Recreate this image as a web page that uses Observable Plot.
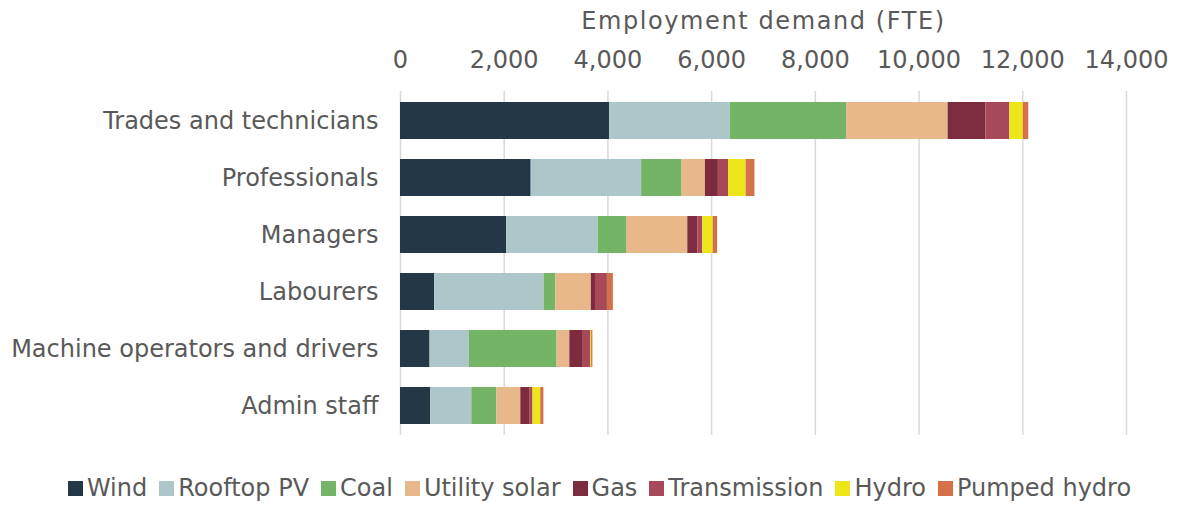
<!DOCTYPE html>
<html>
<head>
<meta charset="utf-8">
<script src="https://cdn.jsdelivr.net/npm/d3@7"></script>
<script src="https://cdn.jsdelivr.net/npm/@observablehq/plot@0.6"></script>
<style>
  body { margin: 0; background: #fff; font-family: "DejaVu Sans", Verdana, sans-serif; }
  #legend { display: flex; justify-content: center; align-items: center; gap: 12px; font-size: 24px; color: #595959; height: 36px; margin-top: 20px; padding-left: 22px; }
  #legend .item { display: flex; align-items: center; gap: 4px; }
  #legend .sw { width: 15px; height: 15px; display: inline-block; }
  #chart svg g[aria-label="x-axis label"] text { letter-spacing: 1.6px; }
</style>
</head>
<body>
<div id="chart"></div>
<div id="legend"></div>
<script>
const categories = ["Trades and technicians", "Professionals", "Managers", "Labourers", "Machine operators and drivers", "Admin staff"];
const series = ["Wind", "Rooftop PV", "Coal", "Utility solar", "Gas", "Transmission", "Hydro", "Pumped hydro"];
const colors = ["#243746", "#adc6c9", "#74b466", "#e8b78a", "#7d2c40", "#a8495a", "#ede61a", "#d4704a"];
// values per series, in category order
const wind         = [4030, 2520, 2045, 660, 570, 580];
const rooftopPV    = [2330, 2130, 1770, 2110, 760, 795];
const coal         = [2250, 780, 555, 225, 1690, 485];
const utilitySolar = [1950, 450, 1170, 685, 245, 460];
const gas          = [730, 250, 195, 80, 245, 170];
const transmission = [460, 195, 95, 230, 155, 65];
const hydro        = [260, 340, 200, 0, 20, 150];
const pumpedHydro  = [105, 170, 85, 115, 25, 60];
const xTicks = [0, 2000, 4000, 6000, 8000, 10000, 12000, 14000];

const seriesValues = [wind, rooftopPV, coal, utilitySolar, gas, transmission, hydro, pumpedHydro];
const data = [];
series.forEach((s, i) => {
  categories.forEach((c, j) => data.push({series: s, category: c, value: seriesValues[i][j]}));
});

const chart = Plot.plot({
  width: 1177,
  height: 450,
  marginLeft: 400,
  marginRight: 51,
  marginTop: 91,
  marginBottom: 15,
  style: { fontFamily: "DejaVu Sans, Verdana, sans-serif", fontSize: "24px", color: "#595959", background: "#fff" },
  x: { domain: [0, 14000] },
  y: { domain: categories, padding: 0.35, paddingOuter: 0.175 },
  color: { domain: series, range: colors },
  marks: [
    Plot.gridX(xTicks, { stroke: "#d9d9d9", strokeOpacity: 1, strokeWidth: 1.5 }),
    Plot.barX(data, Plot.stackX({ x: "value", y: "category", fill: "series", order: series })),
    Plot.axisX({ anchor: "top", ticks: xTicks, tickFormat: d3.format(","), tickSize: 0, tickPadding: 24,
      fontSize: 24, fill: "#595959", label: "Employment demand (FTE)", labelAnchor: "center", labelArrow: "none", labelOffset: 80 }),
    Plot.axisY({ tickSize: 0, tickPadding: 22, fontSize: 24, fill: "#595959", label: null })
  ]
});
document.getElementById("chart").appendChild(chart);

const legend = document.getElementById("legend");
series.forEach((s, i) => {
  const it = document.createElement("div");
  it.className = "item";
  it.innerHTML = `<span class="sw" style="background:${colors[i]}"></span><span>${s}</span>`;
  legend.appendChild(it);
});
</script>
</body>
</html>
